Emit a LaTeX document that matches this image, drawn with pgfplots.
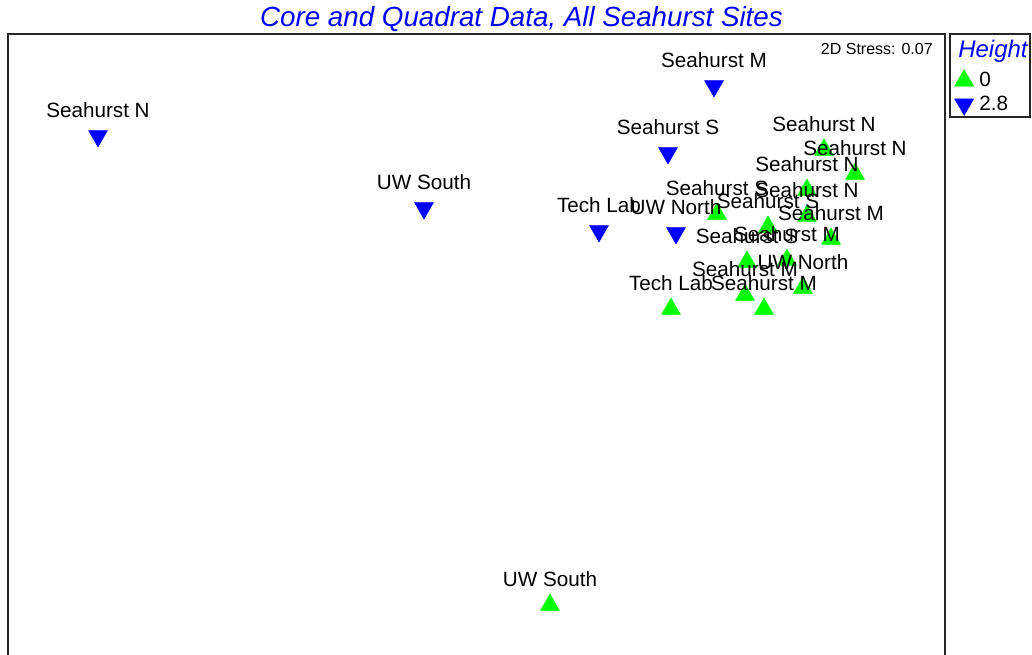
\documentclass[border=0pt]{standalone}
\usepackage{pgfplots}
\pgfplotsset{compat=1.18}
\usepackage{fontspec}
\setmainfont{Liberation Sans}
\definecolor{mgreen}{RGB}{0,255,0}
\definecolor{mblue}{RGB}{0,0,255}
\pgfplotsset{mylegimg/.style={legend image code/.code={\path[draw=none,fill=none] (-7pt,-6.9pt) rectangle (7pt,7pt);\draw[##1] plot coordinates {(0pt,0pt)};}}}

\pgfplotstableread[col sep=comma]{
x,y,label
824,505,Seahurst N
855,481,Seahurst N
807,465,Seahurst N
807,439,Seahurst N
717,441,Seahurst S
768,428,Seahurst S
831,416,Seahurst M
747,393,Seahurst S
787,395,Seahurst M
745,360,Seahurst M
803,367,UW North
764,346,Seahurst M
671,346,Tech Lab
550,50,UW South
}\greendata

\pgfplotstableread[col sep=comma]{
x,y,label
98,519,Seahurst N
424,447,UW South
599,424,Tech Lab
676,422,UW North
668,502,Seahurst S
714,569,Seahurst M
}\bluedata

\begin{document}
\begin{tikzpicture}
\begin{axis}[
  x=0.75pt, y=0.75pt,
  xmin=8, xmax=945, ymin=0, ymax=621,
  hide axis, clip=false,
  legend style={at={(1.01035,0.94251)}, anchor=north west, draw=none, fill=none,
    inner sep=0pt, outer sep=0pt, row sep=3.9pt, column sep=4.3pt,
    font=\fontsize{15.5}{18}\selectfont, nodes={inner sep=0pt}},
  legend cell align=left,
  every node near coord/.style={anchor=south, yshift=13.2pt, text=black,
    font=\fontsize{15.5}{18}\selectfont, inner sep=0pt},
]
\addplot[only marks, mylegimg, mark=triangle*, mark size=8.2pt, color=mgreen, line width=0.4pt,
  nodes near coords, point meta=explicit symbolic]
  table[x=x, y=y, meta=label] {\greendata};
\addlegendentry{0}
\addplot[only marks, mylegimg, mark=triangle*, mark size=8.2pt, mark options={rotate=180}, color=mblue, line width=0.4pt,
  nodes near coords, point meta=explicit symbolic]
  table[x=x, y=y, meta=label] {\bluedata};
\addlegendentry{2.8}

\draw[line width=1.2pt, black!85] (axis cs:8,0) -- (axis cs:8,621) -- (axis cs:945,621) -- (axis cs:945,0);
\draw[line width=1.2pt, black!85] (axis cs:950,621) rectangle (axis cs:1030,538);
\node[anchor=base, font=\fontsize{20.8}{24}\selectfont\itshape, text=mblue, inner sep=0pt]
  at (axis cs:521.5,628) {Core and Quadrat Data, All Seahurst Sites};
\node[anchor=base east, font=\fontsize{12}{14}\selectfont, inner sep=0pt]
  at (axis cs:933,600) {2D Stress: 0.07};
\node[anchor=base west, font=\fontsize{18}{21}\selectfont\itshape, text=mblue, inner sep=0pt]
  at (axis cs:958,597.5) {Height};
\coordinate (BL) at (axis cs:0,0);
\coordinate (TR) at (axis cs:1032,655);
\end{axis}
\pgfresetboundingbox
\path[use as bounding box] (BL) rectangle (TR);
\end{tikzpicture}
\end{document}
